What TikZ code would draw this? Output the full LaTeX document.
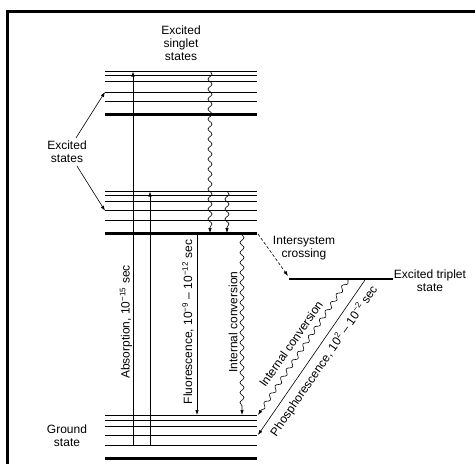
\documentclass[tikz,border=0pt]{standalone}
\usepackage{fontspec}
\setmainfont{Liberation Sans}
\usetikzlibrary{arrows.meta,decorations.pathmorphing}
\newcommand{\tenpow}[1]{10\textsuperscript{#1}}

\begin{document}
\begin{tikzpicture}[x=1pt,y=-1pt,
    every node/.style={font=\fontsize{12}{13}\selectfont, align=center, inner sep=1pt},
    sublevel/.style={line width=0.8pt},
    mainlevel/.style={line width=2.8pt},
    arr/.style={-{Latex[length=5pt,width=3.5pt]}, line width=0.6pt},
    wavy/.style={arr, decorate, decoration={snake, amplitude=2pt, segment length=10pt, post length=5pt}}]
  \useasboundingbox (0,0) rectangle (475,464);
  \draw[line width=3pt] (7,464) -- (7,11) -- (475,11);

  \foreach \y in {71,75.5,81,92,101,191,195,201,210.7,220.7,415,420,426,435,445}
    \draw[sublevel] (105,\y) -- (257,\y);
  \foreach \y in {114.5,233.3,458.3}
    \draw[mainlevel] (105,\y) -- (257,\y);
  \draw[mainlevel] (289,279) -- (393,279);

  \node (singlet) at (181,43) {Excited\\singlet\\states};
  \node[inner sep=3pt] (exstates) at (67,152) {Excited\\states};
  \node (ground) at (67,436) {Ground\\state};
  \node (triplet) at (430,281) {Excited triplet\\state};
  \node (isclbl) at (304,248) {Intersystem\\crossing};

  \coordinate (absA) at (133,445);  \coordinate (absAe) at (133,71.5);
  \coordinate (absB) at (150,445);  \coordinate (absBe) at (150,191.5);
  \coordinate (vrA) at (210,71);    \coordinate (vrAe) at (210,233);
  \coordinate (vrB) at (227,191);   \coordinate (vrBe) at (227,233);
  \coordinate (fl) at (197,234.5);  \coordinate (fle) at (197,415);
  \coordinate (ic) at (242,234.5);  \coordinate (ice) at (242,415);
  \coordinate (isc) at (258,234);   \coordinate (isce) at (288,276);
  \coordinate (tic) at (348,280);   \coordinate (tice) at (258,415);
  \coordinate (ph) at (365,280);    \coordinate (phe) at (258,435);
  \coordinate (uparr) at (105,92);  \coordinate (lowarr) at (105,210.7);

  \draw[arr] (absA) -- (absAe);
  \draw[arr] (absB) -- (absBe);
  \draw[wavy] (vrA) -- (vrAe);
  \draw[wavy] (vrB) -- (vrBe);
  \draw[arr] (fl) -- (fle);
  \draw[wavy] (ic) -- (ice);
  \draw[arr, dash pattern=on 3pt off 2pt] (isc) -- (isce);
  \draw[wavy] (tic) -- (tice);
  \draw[arr] (ph) -- (phe);
  \draw[arr] ([xshift=9pt]exstates.north) -- (uparr);
  \draw[arr] ([xshift=10pt]exstates.south) -- (lowarr);

  \node[rotate=90] (abslbl) at (126,322) {Absorption, \tenpow{−15} sec};
  \node[rotate=90] (fllbl) at (188,322) {Fluorescence, \tenpow{−9} – \tenpow{−12} sec};
  \node[rotate=90] (iclbl) at (233,322) {Internal conversion};
  \node[rotate=55] (ticlbl) at (291,344) {Internal conversion};
  \node[rotate=55.5] (phlbl) at (324,361) {Phosphorescence, \tenpow{2} – \tenpow{−2} sec};
\end{tikzpicture}
\end{document}
